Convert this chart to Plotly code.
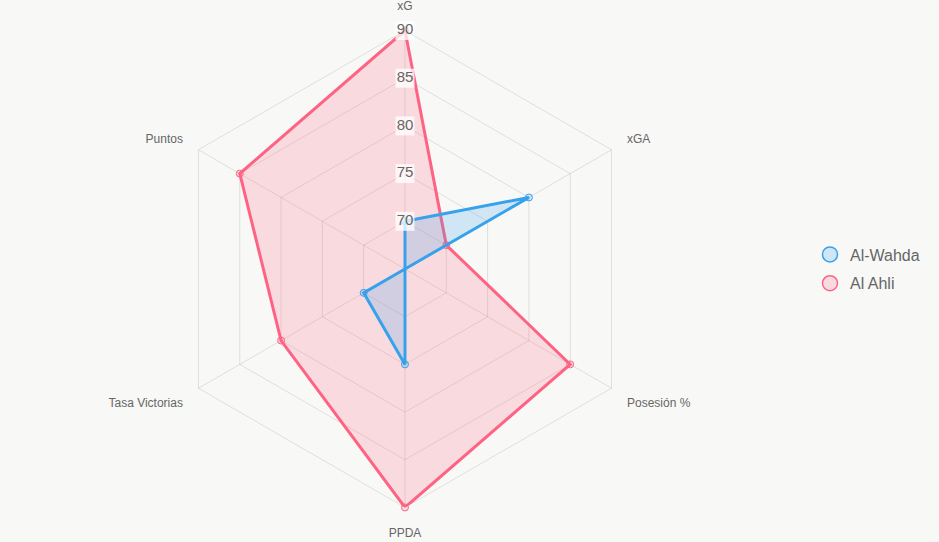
import plotly.graph_objects as go

categories = ["xG", "xGA", "Posesión %", "PPDA", "Tasa Victorias", "Puntos"]
al_wahda = [70, 80, 65, 75, 70, 65]
al_ahli = [90, 70, 85, 90, 80, 85]
tick_vals = [70, 75, 80, 85, 90]
tick_text = ["70", "75", "80", "85", "90"]

BLUE = "rgb(54,162,235)"
BLUE_F = "rgba(54,162,235,0.2)"
PINK = "rgb(255,99,132)"
PINK_F = "rgba(255,99,132,0.2)"
BG = "#f8f8f7"
GRID = "rgba(0,0,0,0.1)"

def closed(v):
    return list(v) + [v[0]]

theta = closed(categories)

fig = go.Figure()

# Al Ahli (drawn first, below)
fig.add_trace(go.Scatterpolar(
    r=closed(al_ahli), theta=theta, mode="lines+markers", fill="toself",
    fillcolor=PINK_F, line=dict(color=PINK, width=3),
    marker=dict(size=7, color=PINK_F, line=dict(color=PINK, width=1)),
    showlegend=False, hoverinfo="skip"))

# Al-Wahda (on top)
fig.add_trace(go.Scatterpolar(
    r=closed(al_wahda), theta=theta, mode="lines+markers", fill="toself",
    fillcolor=BLUE_F, line=dict(color=BLUE, width=3),
    marker=dict(size=7, color=BLUE_F, line=dict(color=BLUE, width=1)),
    showlegend=False, hoverinfo="skip"))

# radial tick labels with backdrop, centered on the xG axis
fig.add_trace(go.Scatterpolar(
    r=tick_vals, theta=[categories[0]] * len(tick_vals), mode="markers+text",
    text=tick_text, textposition="middle center",
    textfont=dict(size=15, color="#666666", family="Liberation Sans, Arial"),
    marker=dict(symbol="square", size=19, color="rgba(255,255,255,0.75)"),
    showlegend=False, hoverinfo="skip"))

# legend-only entries
for name, col, fcol, rank in [("Al-Wahda", BLUE, BLUE_F, 1), ("Al Ahli", PINK, PINK_F, 2)]:
    fig.add_trace(go.Scatterpolar(
        r=[None], theta=[categories[0]], mode="markers", name=name, legendrank=rank,
        legendgroup=name,
        marker=dict(size=15, color=fcol, line=dict(color=col, width=1.5))))

fig.update_layout(
    width=939, height=542,
    paper_bgcolor=BG, plot_bgcolor=BG,
    margin=dict(l=0, r=0, t=0, b=0),
    font=dict(family="Liberation Sans, Arial", color="#666666"),
    polar=dict(
        bgcolor="rgba(0,0,0,0)",
        gridshape="linear",
        domain=dict(x=[0.1773, 0.6853], y=[0.0637, 0.9437]),
        radialaxis=dict(range=[65, 90], tickvals=tick_vals, showticklabels=False,
                        gridcolor=GRID, gridwidth=1, showline=False, ticks=""),
        angularaxis=dict(rotation=90, direction="clockwise", gridcolor=GRID,
                         linecolor=GRID, showline=True, ticks="outside", ticklen=15,
                         tickcolor="rgba(0,0,0,0)",
                         tickfont=dict(size=12, color="#666666")),
    ),
    legend=dict(x=0.8626, y=0.5037, xanchor="left", yanchor="middle",
                font=dict(size=16, color="#666666"), bgcolor="rgba(0,0,0,0)",
                tracegroupgap=5),
)

fig.write_html("out.html")
